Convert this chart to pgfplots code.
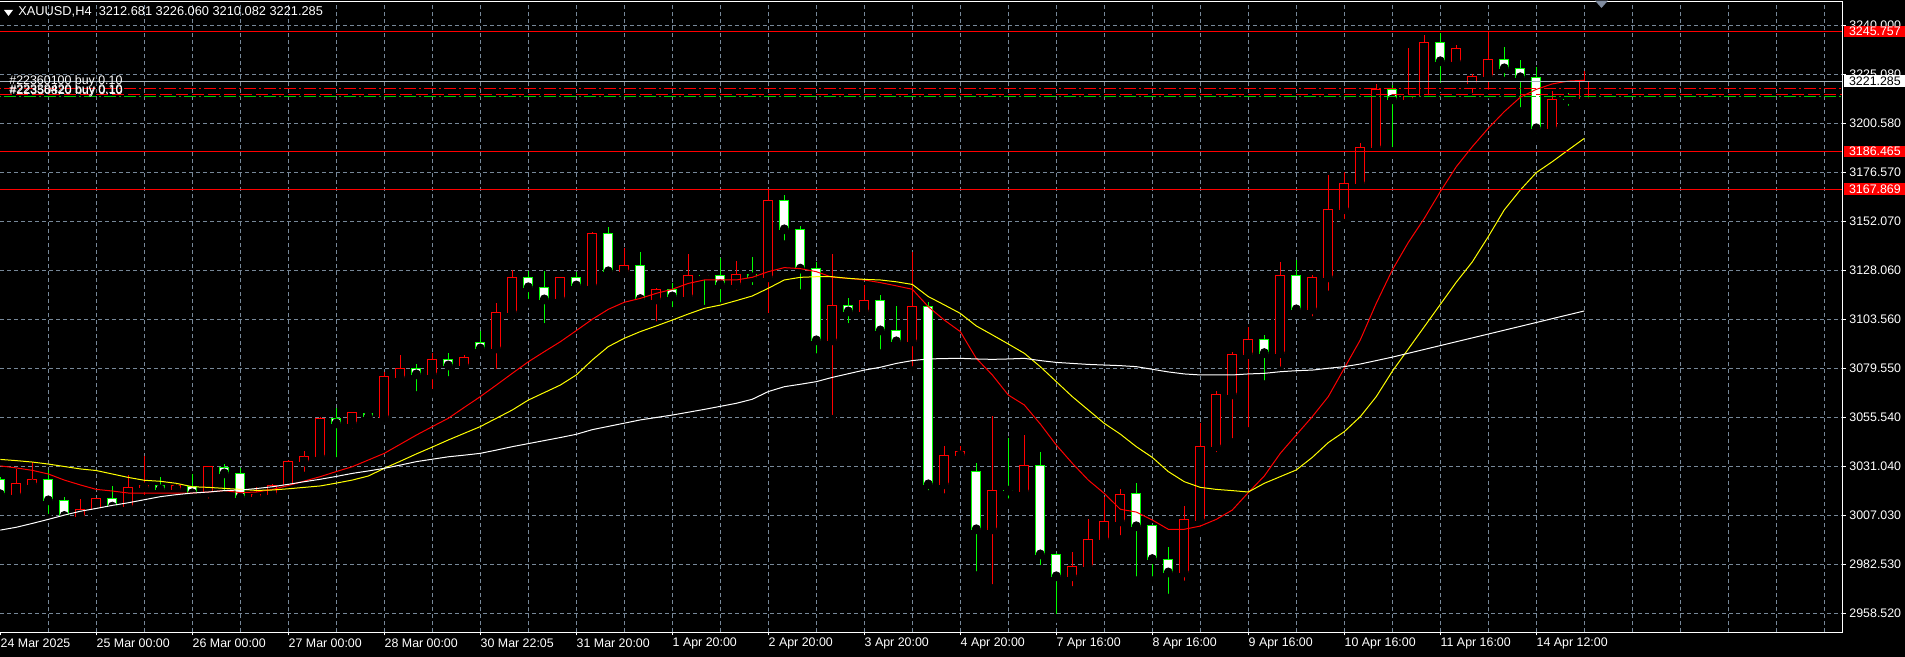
\documentclass[border=0pt]{standalone}
\usepackage{fontspec}
\setmainfont{Liberation Sans}
\usepackage{pgfplots}
\usepackage{pgfplotstable}
\pgfplotsset{compat=1.18}

\definecolor{mtgrid}{RGB}{119,136,153}
\definecolor{mtgreen}{RGB}{0,255,0}
\definecolor{mtred}{RGB}{255,0,0}
\definecolor{mtyellow}{RGB}{255,255,0}
\definecolor{bidgray}{RGB}{170,178,189}
\definecolor{shiftgray}{RGB}{128,140,160}

% XAUUSD H4 bars: index, open, high, low, close
\pgfplotstableread{
i o h l c
0 3024.8 3025.7 3013.6 3017.3
1 3017.1 3029.6 3016.6 3022.7
2 3022.2 3033.4 3021.9 3024.7
3 3024.7 3029.3 3005.4 3014.3
4 3014.3 3015.8 3002.3 3006.6
5 3006.2 3015.0 3005.9 3009.9
6 3009.9 3015.5 3007.1 3015.3
7 3015.3 3021.4 3010.8 3011.2
8 3011.2 3026.6 3010.7 3020.7
9 3020.7 3036.2 3014.8 3021.7
10 3021.7 3025.7 3017.8 3019.7
11 3019.7 3022.4 3018.6 3021.4
12 3021.0 3027.3 3016.1 3017.8
13 3018.1 3030.9 3013.1 3030.8
14 3030.6 3032.2 3016.6 3027.6
15 3027.6 3030.1 3011.7 3015.8
16 3016.1 3021.0 3015.1 3017.3
17 3017.3 3022.4 3016.9 3021.5
18 3021.9 3034.2 3020.7 3033.6
19 3033.4 3038.5 3026.3 3036.0
20 3035.9 3055.6 3033.9 3054.8
21 3054.8 3059.7 3033.4 3052.3
22 3052.3 3058.0 3047.7 3057.7
23 3057.1 3057.9 3054.3 3055.6
24 3055.4 3077.5 3055.3 3075.5
25 3074.9 3085.9 3072.4 3079.5
26 3079.5 3081.6 3066.0 3076.5
27 3076.5 3086.9 3067.1 3083.9
28 3083.9 3086.9 3073.4 3080.9
29 3080.9 3085.9 3080.9 3084.9
30 3092.3 3097.9 3087.7 3089.3
31 3089.3 3111.6 3077.0 3107.1
32 3107.1 3128.0 3105.5 3124.4
33 3124.4 3127.5 3111.6 3119.5
34 3119.5 3127.5 3099.6 3113.5
35 3113.9 3124.4 3111.6 3124.4
36 3124.4 3127.2 3119.8 3120.4
37 3120.3 3146.9 3119.8 3146.1
38 3146.1 3149.4 3123.7 3127.4
39 3127.4 3139.0 3126.4 3130.3
40 3130.3 3136.9 3113.5 3113.7
41 3113.5 3119.0 3100.5 3118.5
42 3118.5 3121.4 3107.5 3115.0
43 3115.0 3135.9 3112.9 3125.4
44 3125.5 3127.0 3108.6 3125.4
45 3125.4 3133.9 3109.9 3121.0
46 3121.0 3132.5 3116.3 3125.9
47 3125.9 3134.3 3118.5 3124.4
48 3124.4 3167.9 3104.6 3162.4
49 3162.4 3165.1 3140.5 3148.1
50 3148.1 3149.7 3116.3 3128.7
51 3128.7 3132.1 3084.7 3093.3
52 3093.3 3135.9 3054.3 3110.6
53 3110.6 3114.4 3099.6 3107.6
54 3107.6 3120.6 3107.6 3113.0
55 3113.0 3115.7 3086.7 3098.2
56 3098.2 3110.2 3091.6 3092.8
57 3092.8 3137.1 3078.3 3110.1
58 3110.1 3112.0 3017.1 3022.2
59 3022.2 3041.1 3015.6 3036.5
60 3036.5 3041.1 3033.9 3038.5
61 3028.6 3032.6 2977.1 3000.0
62 3000.0 3055.9 2970.7 3019.2
63 3019.2 3045.1 3013.1 3019.1
64 3018.7 3046.6 3017.4 3031.6
65 3031.6 3038.0 2980.1 2987.6
66 2987.6 2988.1 2956.0 2976.8
67 2976.8 2988.9 2969.7 2981.7
68 2981.7 3005.1 2980.6 2995.0
69 2995.0 3016.1 2990.6 3003.9
70 3003.9 3019.9 2994.9 3017.2
71 3017.8 3022.7 2974.6 3001.5
72 3001.9 3002.2 2974.6 2985.3
73 2985.2 2991.1 2966.0 2978.7
74 2978.7 3011.5 2972.5 3004.6
75 3004.4 3052.6 2999.2 3041.0
76 3041.0 3068.3 3035.9 3066.6
77 3066.6 3087.7 3042.8 3086.5
78 3086.5 3099.7 3048.2 3093.8
79 3093.8 3095.9 3071.4 3087.0
80 3087.0 3132.0 3078.2 3125.4
81 3125.4 3133.0 3106.1 3108.6
82 3108.6 3125.4 3103.0 3124.4
83 3124.4 3174.9 3115.7 3158.0
84 3158.0 3176.6 3151.1 3170.8
85 3170.8 3190.9 3167.9 3188.6
86 3188.6 3219.9 3184.5 3217.2
87 3217.2 3219.2 3186.5 3212.3
88 3212.3 3237.6 3208.3 3213.9
89 3213.9 3244.1 3210.6 3240.4
90 3240.4 3244.9 3218.2 3231.1
91 3230.9 3239.0 3230.4 3237.5
92 3220.2 3224.8 3213.3 3223.6
93 3223.6 3245.4 3214.9 3232.0
94 3232.0 3238.0 3221.3 3227.6
95 3227.6 3231.7 3206.2 3223.2
96 3223.2 3228.1 3193.4 3198.0
97 3198.0 3216.4 3197.1 3212.3
98 3212.4 3215.3 3207.0 3212.3
99 3212.681 3226.060 3210.082 3221.285
}\ohlc

% moving averages: fast (red), medium (yellow), slow (white)
\pgfplotstableread{
i f m s
0 3031.3 3034.5 2999.6
1 3030.3 3033.9 3001.0
2 3029.1 3033.2 3002.9
3 3027.3 3032.2 3004.9
4 3024.3 3031.0 3007.0
5 3021.9 3029.8 3008.9
6 3019.7 3029.0 3010.3
7 3018.9 3027.3 3011.8
8 3017.9 3025.6 3013.1
9 3017.8 3024.2 3014.6
10 3017.8 3023.7 3016.1
11 3017.8 3022.7 3017.1
12 3017.9 3021.0 3017.9
13 3018.4 3020.7 3018.4
14 3019.1 3020.2 3019.1
15 3018.1 3019.7 3019.4
16 3018.4 3019.2 3020.1
17 3019.7 3019.4 3021.0
18 3021.6 3020.0 3022.2
19 3023.8 3020.7 3023.5
20 3026.0 3021.4 3024.7
21 3028.5 3022.8 3026.1
22 3030.9 3024.3 3027.6
23 3034.2 3026.3 3028.8
24 3037.5 3030.1 3030.1
25 3042.0 3033.6 3031.7
26 3046.5 3037.2 3033.4
27 3050.7 3040.6 3034.6
28 3054.8 3044.1 3035.8
29 3060.2 3047.4 3036.6
30 3065.5 3050.7 3037.5
31 3071.2 3054.8 3039.1
32 3077.0 3058.9 3040.8
33 3082.7 3063.8 3042.3
34 3087.7 3067.5 3043.8
35 3092.6 3071.2 3045.3
36 3098.1 3076.2 3046.9
37 3103.7 3083.6 3049.2
38 3108.6 3090.2 3050.8
39 3112.1 3094.3 3052.4
40 3114.0 3097.6 3054.0
41 3116.5 3100.4 3055.2
42 3118.5 3103.3 3056.4
43 3121.4 3106.3 3057.8
44 3123.1 3109.1 3059.2
45 3123.1 3110.7 3060.7
46 3123.1 3112.9 3062.2
47 3124.4 3115.2 3064.2
48 3127.2 3119.0 3068.0
49 3129.2 3123.1 3070.4
50 3128.7 3124.4 3071.6
51 3127.2 3124.7 3072.9
52 3124.4 3124.7 3075.0
53 3123.9 3123.9 3076.8
54 3123.1 3123.4 3078.6
55 3121.8 3123.1 3080.0
56 3120.2 3122.2 3081.9
57 3118.5 3120.9 3083.3
58 3109.9 3114.9 3084.1
59 3103.3 3110.8 3084.3
60 3097.6 3106.6 3084.4
61 3084.4 3100.4 3084.1
62 3076.2 3096.0 3083.9
63 3066.3 3091.5 3084.1
64 3061.4 3086.9 3084.4
65 3052.0 3080.3 3083.3
66 3041.6 3072.9 3082.4
67 3032.6 3065.5 3081.9
68 3024.3 3058.9 3081.4
69 3017.7 3052.3 3081.1
70 3009.9 3047.0 3080.8
71 3008.5 3040.8 3080.3
72 3004.6 3035.5 3079.0
73 3000.0 3028.5 3077.7
74 3000.0 3023.5 3076.7
75 3001.6 3020.7 3076.2
76 3004.9 3019.7 3076.2
77 3009.5 3019.1 3076.2
78 3018.1 3018.4 3076.7
79 3026.3 3022.7 3077.0
80 3037.5 3026.0 3077.8
81 3046.6 3029.3 3078.3
82 3055.6 3035.5 3078.6
83 3065.5 3042.8 3079.5
84 3079.5 3048.2 3080.3
85 3093.5 3055.6 3081.6
86 3111.6 3065.5 3083.3
87 3128.0 3078.0 3085.0
88 3141.6 3089.0 3086.9
89 3153.5 3100.0 3088.8
90 3166.7 3111.0 3090.7
91 3179.0 3122.0 3092.6
92 3188.9 3132.0 3094.5
93 3198.0 3144.5 3096.4
94 3206.2 3157.7 3098.3
95 3213.3 3167.5 3100.2
96 3217.2 3176.1 3102.1
97 3219.9 3181.5 3104.0
98 3221.3 3187.3 3105.9
99 3221.7 3193.0 3107.8
}\ma

\begin{document}
\begin{tikzpicture}
\path[fill=black, use as bounding box] (0pt,0pt) rectangle (952.5pt,328.5pt);
\begin{axis}[
  at={(0pt,12.35pt)}, anchor=south west,
  width=921.4pt, height=315.5pt, scale only axis,
  xmin=-0.02, xmax=115.16, ymin=2949.14, ymax=3260.7,
  scaled x ticks=false, scaled y ticks=false,
  axis line style={draw=none},
  clip mode=individual,
  xtick={0,6,...,96},
  xticklabels={24 Mar 2025, 25 Mar 00:00, 26 Mar 00:00, 27 Mar 00:00, 28 Mar 00:00,
    30 Mar 22:05, 31 Mar 20:00, 1 Apr 20:00, 2 Apr 20:00, 3 Apr 20:00, 4 Apr 20:00,
    7 Apr 16:00, 8 Apr 16:00, 9 Apr 16:00, 10 Apr 16:00, 11 Apr 16:00, 14 Apr 12:00},
  minor xtick={3,6,...,114},
  xminorgrids=true, xmajorgrids=false,
  ytick={2958.52,2982.71,3006.91,3031.10,3055.30,3079.49,3103.68,3127.88,3152.07,3176.27,3200.46,3224.65,3248.85},
  yticklabels={2958.520,2982.530,3007.030,3031.040,3055.540,3079.550,3103.560,3128.060,3152.070,3176.570,3200.580,3225.080,3240.000},
  ymajorgrids=true,
  grid style={mtgrid, line width=0.5pt, dash pattern=on 2pt off 1.5pt},
  minor grid style={mtgrid, line width=0.5pt, dash pattern=on 2pt off 1.5pt},
  xtick pos=left, ytick pos=right, yticklabel pos=right,
  tick align=outside, major tick length=1.5pt, minor tick length=0pt,
  tick style={white, line width=0.5pt},
  every tick label/.append style={text=white, font=\fontsize{6.2}{7}\selectfont},
  xticklabel style={anchor=west, inner sep=0pt, yshift=-3.85pt},
  yticklabel style={anchor=west, inner sep=0pt, xshift=1.6pt},
  candle/.style={only marks, mark=none,
    error bars/y dir=plus, error bars/y explicit, error bars/error mark=none,
    error bars/error bar style={#1}},
  bull/.style={restrict expr to domain={\thisrow{c}-\thisrow{o}}{0:1000}},
  bear/.style={restrict expr to domain={\thisrow{c}-\thisrow{o}}{-1000:0}},
]
% wicks
\addplot[bull, candle={mtred, line width=0.5pt}]
  table[x=i, y=l, y error expr=\thisrow{h}-\thisrow{l}] {\ohlc};
\addplot[bear, candle={mtgreen, line width=0.5pt}]
  table[x=i, y=l, y error expr=\thisrow{h}-\thisrow{l}] {\ohlc};
% body outlines
\addplot[bull, candle={mtred, line width=5.15pt}]
  table[x=i, y expr=\thisrow{o}-0.247, y error expr=\thisrow{c}-\thisrow{o}+0.494] {\ohlc};
\addplot[bear, candle={mtgreen, line width=5.15pt}]
  table[x=i, y expr=\thisrow{c}-0.247, y error expr=\thisrow{o}-\thisrow{c}+0.494] {\ohlc};
% body fills
\addplot[bull, candle={black, line width=4.15pt}]
  table[x=i, y expr=\thisrow{o}+0.247, y error expr={max(\thisrow{c}-\thisrow{o}-0.494,0)}] {\ohlc};
\addplot[bear, candle={white, line width=4.15pt}]
  table[x=i, y expr=\thisrow{c}+0.247, y error expr={max(\thisrow{o}-\thisrow{c}-0.494,0)}] {\ohlc};

\addplot[mtred, line width=0.5pt] table[x=i, y=f] {\ma};
\addplot[mtyellow, line width=0.5pt] table[x=i, y=m] {\ma};
\addplot[white, line width=0.5pt] table[x=i, y=s] {\ma};

% horizontal levels and order lines
\addplot[mtred, line width=0.5pt] coordinates {(-1,3245.757) (116,3245.757)};
\addplot[mtred, line width=0.5pt] coordinates {(-1,3186.465) (116,3186.465)};
\addplot[mtred, line width=0.5pt] coordinates {(-1,3167.869) (116,3167.869)};
\addplot[bidgray, line width=0.5pt] coordinates {(-1,3221.285) (116,3221.285)};
\addplot[mtred, line width=0.5pt, dash pattern=on 6pt off 1.5pt on 1pt off 1.5pt] coordinates {(-1,3217.7) (116,3217.7)};
\addplot[mtred, line width=0.5pt, dash pattern=on 6pt off 2pt] coordinates {(-1,3214.9) (116,3214.9)};
\addplot[mtgreen!80!black, line width=0.6pt, dash pattern=on 6pt off 1.5pt on 1pt off 1.5pt] coordinates {(-1,3213.6) (116,3213.6)};

\draw[white, line width=0.5pt] (rel axis cs:0,1) -- (rel axis cs:1,1) -- (rel axis cs:1,0) -- (rel axis cs:0,0);
\coordinate (r1) at (axis cs:115.16,3245.757);
\coordinate (r2) at (axis cs:115.16,3221.285);
\coordinate (r3) at (axis cs:115.16,3186.465);
\coordinate (r4) at (axis cs:115.16,3167.869);
\end{axis}

\begin{scope}[every node/.style={anchor=west, inner sep=0pt, minimum width=30.5pt, minimum height=5.8pt, font=\fontsize{6.2}{7}\selectfont}]
\node[fill=mtred, text=white] at ([xshift=0.6pt]r1) {3245.757};
\node[fill=white, text=black] at ([xshift=0.6pt]r2) {3221.285};
\node[fill=mtred, text=white] at ([xshift=0.6pt]r3) {3186.465};
\node[fill=mtred, text=white] at ([xshift=0.6pt]r4) {3167.869};
\end{scope}

\fill[white] (2pt,323.5pt) -- (6.5pt,323.5pt) -- (4.25pt,320.5pt) -- cycle;
\node[anchor=west, inner sep=0pt, text=white, font=\fontsize{6.4}{7}\selectfont]
  at (9pt,322.5pt) {XAUUSD,H4\ \ 3212.681 3226.060 3210.082 3221.285};
\begin{scope}[every node/.style={anchor=west, inner sep=0pt, text=white, font=\fontsize{6.2}{7}\selectfont}]
\node at (4.5pt,287.8pt) {\#22360100 buy 0.10};
\node at (4.5pt,283.4pt) {\#22338420 buy 0.10};
\node at (4.7pt,282.9pt) {\#22350820 buy 0.10};
\end{scope}
\fill[shiftgray] (797.5pt,328.2pt) -- (804pt,328.2pt) -- (800.75pt,324.5pt) -- cycle;
\end{tikzpicture}
\end{document}
